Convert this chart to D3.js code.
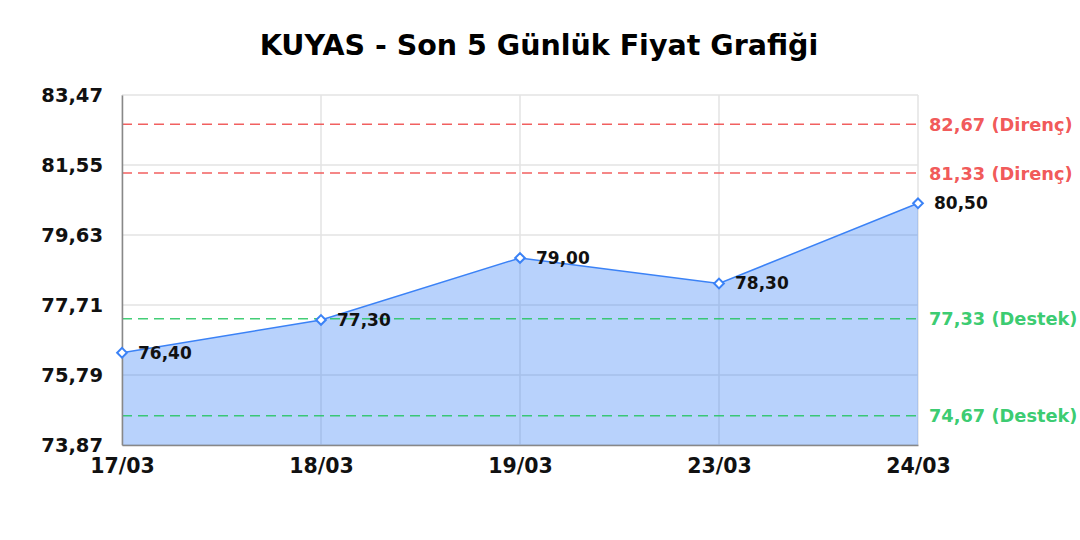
<!DOCTYPE html>
<html>
<head>
<meta charset="utf-8">
<script src="https://cdn.jsdelivr.net/npm/d3@7"></script>
<style>
  body { margin: 0; background: #fff; }
  text { font-family: "DejaVu Sans", sans-serif; }
</style>
</head>
<body>
<div id="chart"></div>
<script>
const dates = ["17/03", "18/03", "19/03", "23/03", "24/03"]
const prices = [76.40, 77.30, 79.00, 78.30, 80.50]
const yTicks = [73.87, 75.79, 77.71, 79.63, 81.55, 83.47]
const resistance = [82.67, 81.33]
const support = [77.33, 74.67]

function drawPriceChart(){
    let width = 1080
    let height = 540
    let margin = {top: 95, bottom: 95, left: 122, right: 162}
    let fmt = v => v.toFixed(2).replace(".", ",")

    let svg = d3.select("#chart")
        .append("svg")
            .attr("width", width)
            .attr("height", height)

    let x = d3.scalePoint()
        .domain(dates)
        .range([margin.left, width - margin.right])
    let y = d3.scaleLinear()
        .domain([yTicks[0], yTicks[yTicks.length - 1]])
        .range([height - margin.bottom, margin.top])

    svg.append("text")
        .attr("x", width / 2 - 1)
        .attr("y", 55)
        .attr("text-anchor", "middle")
        .attr("font-size", 28.5)
        .attr("font-weight", "bold")
        .text("KUYAS - Son 5 Günlük Fiyat Grafiği")

    // grid
    svg.append("g")
        .selectAll("line")
        .data(yTicks)
        .enter()
        .append("line")
            .attr("x1", margin.left)
            .attr("x2", width - margin.right)
            .attr("y1", d => y(d))
            .attr("y2", d => y(d))
            .attr("stroke", "#e3e3e3")
            .attr("stroke-width", 1.5)
    svg.append("g")
        .selectAll("line")
        .data(dates)
        .enter()
        .append("line")
            .attr("x1", d => x(d))
            .attr("x2", d => x(d))
            .attr("y1", margin.top)
            .attr("y2", height - margin.bottom)
            .attr("stroke", "#e3e3e3")
            .attr("stroke-width", 1.5)

    let pts = dates.map((d, i) => [d, prices[i]])

    let area = d3.area()
        .x(d => x(d[0]))
        .y0(y(yTicks[0]))
        .y1(d => y(d[1]))
    svg.append("path")
        .attr("d", area(pts))
        .attr("fill", "#3b82f6")
        .attr("fill-opacity", 0.36)

    let line = d3.line()
        .x(d => x(d[0]))
        .y(d => y(d[1]))
    svg.append("path")
        .attr("d", line(pts))
        .attr("fill", "none")
        .attr("stroke", "#3b82f6")
        .attr("stroke-width", 1.5)

    // support / resistance
    let levels = resistance.map(v => ({v: v, label: fmt(v) + " (Direnç)", c: "#ef4444"}))
        .concat(support.map(v => ({v: v, label: fmt(v) + " (Destek)", c: "#22c55e"})))
    svg.append("g")
        .selectAll("line")
        .data(levels)
        .enter()
        .append("line")
            .attr("x1", margin.left)
            .attr("x2", width - margin.right)
            .attr("y1", d => y(d.v))
            .attr("y2", d => y(d.v))
            .attr("stroke", d => d.c)
            .attr("stroke-opacity", 0.85)
            .attr("stroke-width", 1.5)
            .attr("stroke-dasharray", "10,6")
    svg.append("g")
        .selectAll("text")
        .data(levels)
        .enter()
        .append("text")
            .attr("x", width - margin.right + 11)
            .attr("y", d => y(d.v) + 6.5)
            .attr("font-size", 17.8)
            .attr("font-weight", "bold")
            .attr("fill", d => d.c)
            .attr("fill-opacity", 0.9)
            .text(d => d.label)

    // axes
    let yAxis = d3.axisLeft(y)
        .tickValues(yTicks)
        .tickSize(0)
        .tickPadding(19)
        .tickFormat(fmt)
    let yg = svg.append("g")
        .attr("transform", `translate(${margin.left},0)`)
        .call(yAxis)
    yg.select(".domain").attr("stroke", "#888").attr("stroke-width", 1.5)
    yg.selectAll("text")
        .attr("font-size", 19.5)
        .attr("font-weight", "bold")
        .attr("fill", "#111")
        .attr("font-family", "DejaVu Sans")

    let xAxis = d3.axisBottom(x)
        .tickSize(0)
        .tickPadding(13)
    let xg = svg.append("g")
        .attr("transform", `translate(0,${height - margin.bottom})`)
        .call(xAxis)
    xg.select(".domain").attr("stroke", "#888").attr("stroke-width", 1.5)
    xg.selectAll("text")
        .attr("font-size", 20.5)
        .attr("font-weight", "bold")
        .attr("fill", "#111")
        .attr("font-family", "DejaVu Sans")

    // markers and labels
    svg.append("g")
        .selectAll("path")
        .data(pts)
        .enter()
        .append("path")
            .attr("d", d3.symbol().type(d3.symbolDiamond2).size(60))
            .attr("transform", d => `translate(${x(d[0])},${y(d[1])})`)
            .attr("fill", "#fff")
            .attr("stroke", "#3b82f6")
            .attr("stroke-width", 2)
    svg.append("g")
        .selectAll("text")
        .data(pts)
        .enter()
        .append("text")
            .attr("x", d => x(d[0]) + 16)
            .attr("y", d => y(d[1]) + 6)
            .attr("font-size", 17)
            .attr("font-weight", "bold")
            .attr("fill", "#111")
            .text(d => fmt(d[1]))
}
drawPriceChart()
</script>
</body>
</html>
